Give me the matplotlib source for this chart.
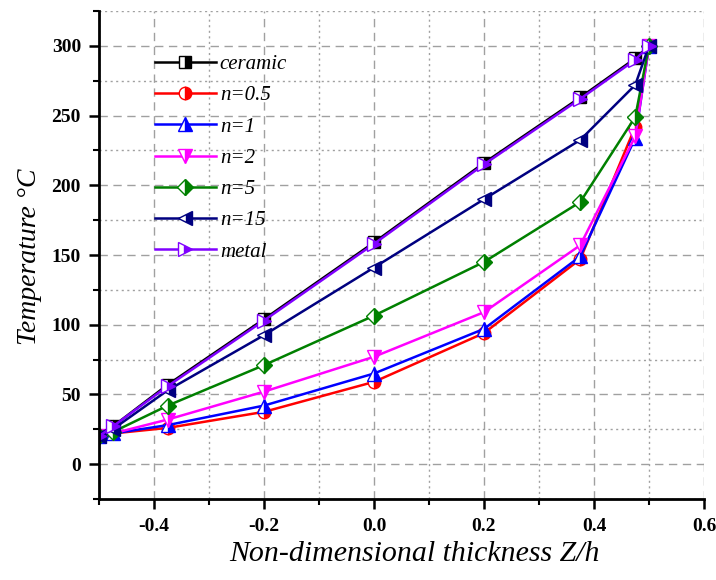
import matplotlib
matplotlib.use("Agg")
import matplotlib.pyplot as plt
from matplotlib.ticker import MultipleLocator

z = [-0.5, -0.475, -0.375, -0.2, 0.0, 0.2, 0.375, 0.475, 0.5]
ceramic = [20, 27, 57, 104, 159, 216, 263, 291, 300]
n05 = [20, 22, 26, 37.5, 59, 94, 147, 242, 300]
n1 = [20, 22, 28, 42, 65, 97, 149, 234, 300]
n2 = [20, 22, 32, 52, 77, 109, 157, 235, 300]
n5 = [20, 23, 42, 71, 106.5, 145, 188, 249, 300]
n15 = [20, 25, 53, 92.5, 141, 190, 232.5, 272, 300]
metal = [20, 27, 56, 103, 158, 215, 262, 290, 300]

series = [
    ("ceramic", ceramic, "#000000", "s"),
    ("n=0.5", n05, "#FF0000", "o"),
    ("n=1", n1, "#0000FF", "^"),
    ("n=2", n2, "#FF00FF", "v"),
    ("n=5", n5, "#008000", "D"),
    ("n=15", n15, "#000080", "<"),
    ("metal", metal, "#8000FF", ">"),
]

W, H = 716, 580
fig = plt.figure(figsize=(W / 100, H / 100), dpi=100)
L, R, T, B = 99, 704, 11, 499
ax = fig.add_axes([L / W, 1 - B / H, (R - L) / W, (B - T) / H])

for label, vals, col, mk in series:
    ms = {"s": 8.5, "D": 8, "o": 9}.get(mk, 10)
    ax.plot(z, vals, color=col, lw=1.8, marker=mk, markersize=ms,
            fillstyle="right", markerfacecoloralt="white",
            markeredgecolor=col, markeredgewidth=1.0, label=label)

ax.set_xlim(-0.5, 0.6)
ax.set_ylim(-25, 325)
ax.xaxis.set_major_locator(MultipleLocator(0.2))
ax.xaxis.set_minor_locator(MultipleLocator(0.1))
ax.yaxis.set_major_locator(MultipleLocator(50))
ax.yaxis.set_minor_locator(MultipleLocator(25))

ax.grid(which="major", color="#A0A0A0", linestyle=(0, (6, 4)), lw=1.0)
ax.grid(which="minor", color="#A0A0A0", linestyle=(0, (1.5, 2.5)), lw=1.0)
ax.set_axisbelow(True)

for s in ("top", "right"):
    ax.spines[s].set_visible(False)
for s in ("left", "bottom"):
    ax.spines[s].set_linewidth(2.0)

ax.tick_params(which="major", direction="out", length=7, width=1.8)
ax.tick_params(which="minor", direction="out", length=4, width=1.5)
ax.tick_params(axis="x", which="major", pad=7)
ax.tick_params(axis="y", which="major", pad=6)

ax.set_xticks([-0.4, -0.2, 0.0, 0.2, 0.4, 0.6])
ax.set_xticklabels(["-0.4", "-0.2", "0.0", "0.2", "0.4", "0.6"])
for lab in ax.get_xticklabels() + ax.get_yticklabels():
    lab.set_fontfamily("Liberation Serif")
    lab.set_fontweight("bold")
    lab.set_fontsize(14)

fig.text(414 / W, 1 - 554 / H, "Non-dimensional thickness Z/h",
         fontfamily="Liberation Serif", fontstyle="italic", fontsize=21.5,
         ha="center", va="center")
fig.text(30 / W, 1 - 257 / H, "Temperature \u00b0C",
         fontfamily="Liberation Serif", fontstyle="italic", fontsize=20,
         ha="center", va="center", rotation=90)

leg = ax.legend(loc="upper left", bbox_to_anchor=(0.062, 0.949), frameon=False,
                prop={"family": "Liberation Serif", "style": "italic", "size": 15},
                handlelength=2.9, labelspacing=0.56, handletextpad=0.2)

fig.savefig("out.png", dpi=100)
